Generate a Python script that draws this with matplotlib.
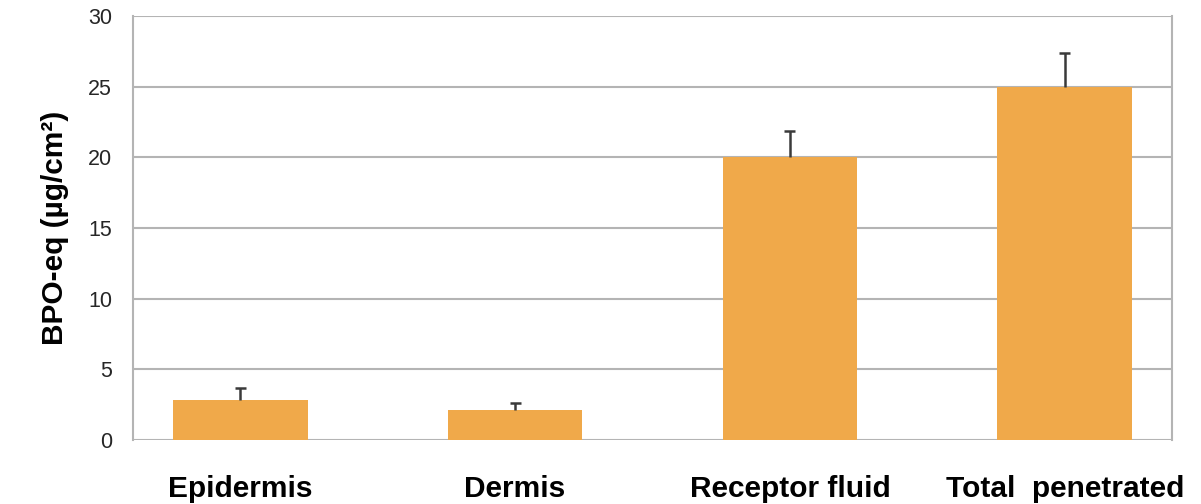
import matplotlib.pyplot as plt
import numpy as np

plt.rcParams['font.family'] = ['Liberation Sans', 'DejaVu Sans']

# BPO-equivalent amounts per skin compartment
categories = ['Epidermis', 'Dermis', 'Receptor fluid', 'Total  penetrated']
means = [2.83, 2.12, 20.0, 25.0]
sd = [0.85, 0.48, 1.9, 2.4]

bar_color = '#F0A94A'
grid_color = '#B4B4B4'
err_color = '#3a3a3a'

fig = plt.figure(figsize=(12.01, 5.04), dpi=100)
ax = fig.add_axes([0.1107, 0.127, 0.8652, 0.841])

x = np.arange(len(categories))
m = np.array(means)
s = np.array(sd)
ax.bar(x, m, width=0.49, color=bar_color, zorder=3)

# one-sided error bars: stem up from the bar top, cap at the end only
ax.vlines(x, m, m + s, color=err_color, linewidth=1.8, zorder=4)
ax.hlines(m + s, x - 0.02, x + 0.02, color=err_color, linewidth=1.8, zorder=4)

ax.set_xlim(-0.39, 3.39)
ax.set_ylim(0, 30)
ax.set_yticks(range(0, 31, 5))
ax.yaxis.grid(True, color=grid_color, linewidth=1.5, zorder=0)
ax.set_axisbelow(True)

for side in ['top', 'bottom']:
    ax.spines[side].set_visible(False)
for side in ['left', 'right']:
    ax.spines[side].set_color(grid_color)
    ax.spines[side].set_linewidth(1.5)

ax.set_xticks(x)
ax.set_xticklabels(categories, fontsize=21.5, fontweight='bold')
ax.tick_params(axis='x', length=0, pad=25)
ax.tick_params(axis='y', length=0, pad=15, labelsize=15.5, labelcolor='#262626')

ax.set_ylabel('BPO-eq (µg/cm²)', fontsize=21.5, fontweight='bold', labelpad=14)

fig.savefig('out.png', dpi=100)
